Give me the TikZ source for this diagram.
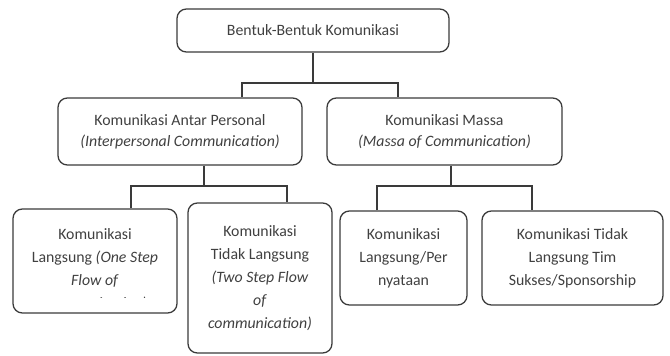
\documentclass[tikz,border=0pt]{standalone}
\usepackage{fontspec}
\setmainfont{Carlito}
\usetikzlibrary{calc}
\definecolor{kmline}{HTML}{3A3A3A}
\definecolor{kmtext}{HTML}{404040}

\begin{document}
\begin{tikzpicture}[x=0.03cm, y=-0.03cm, line width=1.1pt,
    kbox/.style={draw=kmline, rounded corners=8pt, align=center, text=kmtext, inner sep=0pt},
    kmid/.style={font=\fontsize{13.5}{17.9}\selectfont},
    klow/.style={font=\fontsize{13.5}{19.6}\selectfont},
    conn/.style={draw=kmline}]
  \useasboundingbox (0,0) rectangle (670,355);
  % top level
  \node[kbox, kmid, minimum width=8.16cm, minimum height=1.29cm] (top) at (313,30.5) {Bentuk-Bentuk Komunikasi};
  % second level
  \node[kbox, kmid, minimum width=7.32cm, minimum height=2.01cm] (mleft) at (180,131.5)
    {Komunikasi Antar Personal\\\textit{(Interpersonal Communication)}};
  \node[kbox, kmid, minimum width=7.05cm, minimum height=2.01cm] (mright) at (444.5,131.5)
    {Komunikasi Massa\\\textit{(Massa of Communication)}};
  % third level
  \node[kbox, minimum width=4.92cm, minimum height=3.12cm] (bone) at (95,261) {};
  \begin{scope}
    \clip (13,209) rectangle (177,297);
    \node[klow, text=kmtext, align=center] (bonetxt) at (95,269.5)
      {Komunikasi\\Langsung \textit{(One Step}\\\textit{Flow of}\\\textit{communication)}};
  \end{scope}
  \node[kbox, klow, minimum width=4.32cm, minimum height=4.5cm] (btwo) at (260,278)
    {Komunikasi\\Tidak Langsung\\\textit{(Two Step Flow}\\\textit{of}\\\textit{communication)}};
  \node[kbox, klow, minimum width=3.81cm, minimum height=2.82cm] (bthree) at (403.5,258)
    {Komunikasi\\Langsung/Per\\nyataan};
  \node[kbox, klow, minimum width=5.43cm, minimum height=2.82cm] (bfour) at (572.5,258)
    {Komunikasi Tidak\\Langsung Tim\\Sukses/Sponsorship};
  % connectors
  \coordinate (j1) at (313,83);
  \coordinate (j2) at (204,186);
  \coordinate (j3) at (451,186);
  \draw[conn] (top.south) -- (j1);
  \draw[conn] ($(mleft.north)+(62,0)$) |- (j1) -| ($(mright.north)+(-46.5,0)$);
  \draw[conn] (j2 |- mleft.south) -- (j2);
  \draw[conn] ($(bone.north)+(36,0)$) |- (j2) -| ($(btwo.north)+(27,0)$);
  \draw[conn] (j3 |- mright.south) -- (j3);
  \draw[conn] ($(bthree.north)+(-26.5,0)$) |- (j3) -| ($(bfour.north)+(-40.5,0)$);
\end{tikzpicture}
\end{document}
